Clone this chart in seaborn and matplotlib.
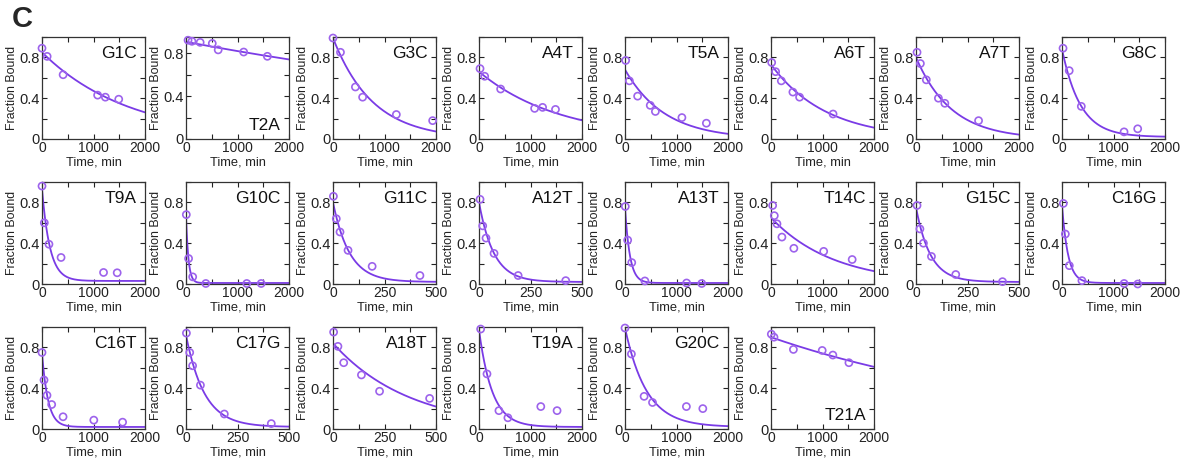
import numpy as np
import matplotlib
matplotlib.use("Agg")
import matplotlib.pyplot as plt
import seaborn as sns

# ---------------- data ----------------
names = ["G1C", "T2A", "G3C", "A4T", "T5A", "A6T", "A7T", "G8C",
         "T9A", "G10C", "G11C", "A12T", "A13T", "T14C", "G15C", "C16G",
         "C16T", "C17G", "A18T", "T19A", "G20C", "T21A"]

x_max = [2000, 2000, 2000, 2000, 2000, 2000, 2000, 2000,
         2000, 2000, 500, 500, 2000, 2000, 500, 2000,
         2000, 500, 500, 2000, 2000, 2000]

y_max = [1.0, 0.95, 1.0, 1.0, 1.0, 1.0, 1.0, 1.0,
         1.0, 1.0, 1.0, 1.0, 1.0, 1.0, 1.0, 1.0,
         1.0, 1.0, 1.0, 1.0, 1.0, 1.0]

times = [
    [0, 100, 410, 1080, 1230, 1490],
    [40, 115, 275, 510, 625, 1120, 1580],
    [0, 145, 435, 575, 1230, 1935],
    [20, 110, 420, 1080, 1235, 1485],
    [13, 85, 245, 490, 590, 1105, 1580],
    [13, 90, 200, 425, 555, 1205],
    [20, 85, 200, 435, 560, 1215],
    [20, 140, 375, 1205, 1470],
    [0, 45, 135, 370, 1195, 1460],
    [6, 50, 130, 385, 1180, 1460],
    [2, 16, 34, 73, 190, 422],
    [5, 18, 34, 73, 190, 421],
    [6, 52, 131, 386, 1196, 1490],
    [32, 64, 116, 212, 444, 1023, 1576],
    [5, 19, 36, 75, 193, 420],
    [26, 65, 142, 387, 1206, 1471],
    [0, 39, 97, 188, 409, 1006, 1565],
    [2, 18, 32, 70, 186, 414],
    [3, 24, 52, 138, 226, 469],
    [32, 155, 387, 561, 1200, 1516],
    [0, 124, 371, 534, 1192, 1511],
    [6, 58, 435, 994, 1201, 1513],
]

fraction = [
    [0.89, 0.81, 0.63, 0.43, 0.41, 0.39],
    [0.92, 0.91, 0.90, 0.89, 0.83, 0.81, 0.77],
    [0.99, 0.85, 0.51, 0.41, 0.24, 0.18],
    [0.69, 0.615, 0.49, 0.30, 0.31, 0.29],
    [0.77, 0.57, 0.42, 0.33, 0.27, 0.21, 0.155],
    [0.75, 0.66, 0.57, 0.46, 0.41, 0.245],
    [0.85, 0.74, 0.58, 0.40, 0.35, 0.18],
    [0.89, 0.67, 0.32, 0.07, 0.10],
    [0.96, 0.60, 0.39, 0.26, 0.113, 0.11],
    [0.68, 0.25, 0.07, 0.005, 0.005, 0.005],
    [0.86, 0.64, 0.51, 0.33, 0.173, 0.083],
    [0.83, 0.57, 0.45, 0.30, 0.083, 0.033],
    [0.76, 0.43, 0.21, 0.03, 0.01, 0.005],
    [0.77, 0.67, 0.59, 0.46, 0.35, 0.32, 0.24],
    [0.77, 0.54, 0.40, 0.27, 0.093, 0.023],
    [0.79, 0.49, 0.18, 0.033, 0.005, 0.0],
    [0.75, 0.48, 0.33, 0.24, 0.12, 0.087, 0.067],
    [0.94, 0.75, 0.62, 0.43, 0.147, 0.053],
    [0.95, 0.81, 0.65, 0.53, 0.37, 0.30],
    [0.98, 0.54, 0.18, 0.11, 0.22, 0.18],
    [0.99, 0.735, 0.32, 0.26, 0.22, 0.20],
    [0.93, 0.90, 0.78, 0.77, 0.725, 0.65],
]

# single-exponential fit parameters: y = plateau + amp * exp(-rate * t)
fit_amp = [0.85, 0.905, 0.99, 0.66, 0.68, 0.73, 0.80, 0.86,
           0.90, 0.66, 0.78, 0.78, 0.74, 0.65, 0.73, 0.76,
           0.72, 0.90, 0.84, 0.95, 0.97, 0.90]
fit_rate = [0.00059, 0.0001, 0.0013, 0.00064, 0.0013, 0.00094, 0.00146, 0.0028,
            0.0065, 0.021, 0.0125, 0.014, 0.0105, 0.00082, 0.0143, 0.0085,
            0.0085, 0.0112, 0.00268, 0.0039, 0.0024, 0.000195]
fit_plateau = [0.0, 0.0, 0.0, 0.0, 0.0, 0.0, 0.0, 0.02,
               0.03, 0.01, 0.02, 0.02, 0.01, 0.0, 0.02, 0.01,
               0.02, 0.02, 0.0, 0.02, 0.02, 0.0]

label_at_bottom = ["T2A", "T21A"]

# ---------------- style ----------------
sns.set_theme(style="ticks")
plt.rcParams["font.family"] = ["Liberation Sans", "DejaVu Sans"]

LINE_C = "#7a3be6"
MARK_C = "#9d63ec"

W, H = 1180, 465
fig = plt.figure(figsize=(W / 100, H / 100), dpi=100)
fig.patch.set_facecolor("white")

col_left = [42, 186, 333, 479, 625, 771, 916, 1062]
row_top = [37, 182, 327]
aw, ah = 103, 102

for i, name in enumerate(names):
    r, c = divmod(i, 8)
    ax = fig.add_axes([col_left[c] / W, 1 - (row_top[r] + ah) / H, aw / W, ah / H])
    xm = x_max[i]
    tt = np.linspace(0, xm, 300)
    yy = fit_plateau[i] + fit_amp[i] * np.exp(-fit_rate[i] * tt)
    sns.lineplot(x=tt, y=yy, ax=ax, color=LINE_C, lw=1.3, zorder=2)
    sns.scatterplot(x=times[i], y=fraction[i], ax=ax, marker="o", s=26,
                    facecolors="none", edgecolor=MARK_C, linewidth=1.2,
                    clip_on=False, zorder=3)
    ax.set_xlim(0, xm)
    xt = np.linspace(0, xm, 5)
    ax.set_xticks(xt)
    ax.set_xticklabels([f"{int(v)}" if j % 2 == 0 else "" for j, v in enumerate(xt)])
    yt = [0, 0.2, 0.4, 0.6, 0.8, 1.0]
    ax.set_yticks(yt)
    ax.set_yticklabels(["0", "", "0.4", "", "0.8", ""])
    ax.set_ylim(0, y_max[i])
    ax.tick_params(direction="in", top=True, right=True, length=3.5, width=0.8,
                   pad=1.5, colors="#222222")
    ax.tick_params(axis="x", labelsize=10)
    ax.tick_params(axis="y", labelsize=10.5)
    for sp in ax.spines.values():
        sp.set_linewidth(0.9)
        sp.set_color("#333333")
    ax.set_xlabel("Time, min", fontsize=9.3, labelpad=1, color="#222222")
    ax.set_ylabel("Fraction Bound", fontsize=8.9, labelpad=1, color="#222222")
    if name in label_at_bottom:
        ax.text(0.92, 0.06, name, transform=ax.transAxes, ha="right", va="bottom",
                fontsize=12.5, color="#111111")
    else:
        ax.text(0.92, 0.91, name, transform=ax.transAxes, ha="right", va="top",
                fontsize=12.5, color="#111111")

fig.text(12 / W, 1 - 5 / H, "C", fontsize=21, fontweight="bold", va="top", ha="left")

fig.savefig("out.png", dpi=100, facecolor="white")
